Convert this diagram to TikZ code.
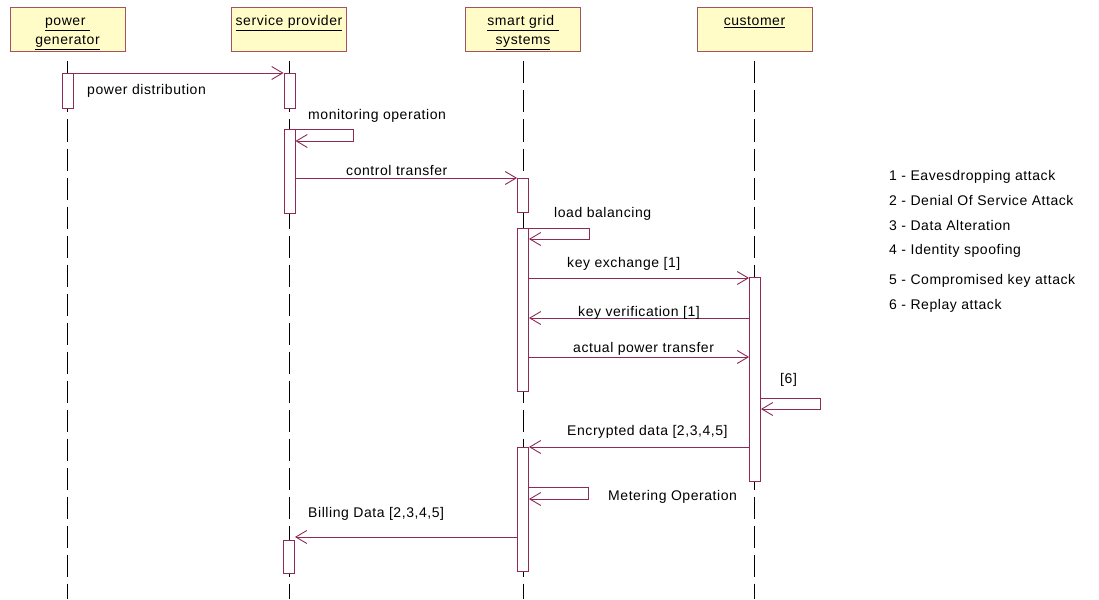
\documentclass[tikz,border=0pt]{standalone}
\usepackage{fontspec}
\setmainfont{Liberation Sans}[LetterSpace=4]
\usetikzlibrary{arrows.meta}
\definecolor{actorfill}{HTML}{FFFCC8}
\definecolor{actorline}{HTML}{A2535E}
\definecolor{msgline}{HTML}{8E2A55}
\newcommand{\topstrut}{\rule{0pt}{16pt}}

\begin{document}
\begin{tikzpicture}[x=1pt, y=-1pt,
  actor/.style={draw=actorline, fill=actorfill, line width=1pt, align=center,
                minimum width=115pt, minimum height=44pt, inner sep=0pt,
                font=\fontsize{14}{19}\selectfont},
  act/.style={draw=msgline, fill=white, line width=0.9pt, anchor=north,
              minimum width=11pt, inner sep=0pt},
  life/.style={draw=black, line width=0.9pt, dash pattern=on 22pt off 7pt},
  msg/.style={draw=msgline, line width=0.9pt,
              -{Straight Barb[length=11pt,width=13pt]}},
  lab/.style={anchor=base west, inner sep=0pt, font=\fontsize{14}{17}\selectfont},
]
\useasboundingbox (0,0) rectangle (1099,599);

% actors
\node[actor] (pg) at (67.5,30) {\topstrut\underline{power~}\\\strut\underline{generator}};
\node[actor] (sp) at (289,30)  {\topstrut\underline{service provider}\\\strut};
\node[actor] (sg) at (523,30)  {\topstrut\underline{smart grid~}\\\strut\underline{systems}};
\node[actor] (cu) at (754.5,30) {\topstrut\underline{customer}\\\strut};

% lifelines
\draw[life] ([yshift=-9pt]pg.south) -- (pg.south |- 0,599);
\draw[life] ([yshift=-9pt]sp.south) -- (sp.south |- 0,599);
\draw[life] ([yshift=-9pt]sg.south) -- (sg.south |- 0,599);
\draw[life] ([yshift=-9pt]cu.south) -- (cu.south |- 0,599);

% activations
\node[act, minimum height=35pt]  (pg1) at (67.5,73) {};
\node[act, minimum height=35pt]  (sp1) at (289.5,73) {};
\node[act, minimum height=84pt]  (sp2) at (289.5,129) {};
\node[act, minimum height=33pt]  (sp3) at (289,540) {};
\node[act, minimum height=34pt]  (sg1) at (523,178) {};
\node[act, minimum height=163pt] (sg2) at (523,228) {};
\node[act, minimum height=124pt] (sg3) at (523,447) {};
\node[act, minimum height=204pt] (cu1) at (755,277) {};

% messages
\draw[msg] (pg1.north east) -- (sp1.north west);
\draw[msg] (sp2.north east) -- ++(58,0) -- ++(0,12) -- ++(-58,0);
\draw[msg] (sp2.east |- sg1.north) -- (sg1.north west);
\draw[msg] (sg2.north east) -- ++(60,0) -- ++(0,11) -- ++(-60,0);
\draw[msg] (sg2.east |- 0,278) -- (cu1.west |- 0,278);
\draw[msg] (cu1.west |- 0,318) -- (sg2.east |- 0,318);
\draw[msg] (sg2.east |- 0,357) -- (cu1.west |- 0,357);
\draw[msg] (cu1.east |- 0,398) -- ++(59,0) -- ++(0,11) -- ++(-59,0);
\draw[msg] (cu1.west |- sg3.north) -- (sg3.north east);
\draw[msg] (sg3.east |- 0,487) -- ++(59,0) -- ++(0,12) -- ++(-59,0);
\draw[msg] (sg3.west |- 0,537) -- (sp3.east |- 0,537);

% message labels
\node[lab] (lpower)   at (87,95)   {power distribution};
\node[lab] (lmonitor) at (308,119) {monitoring operation};
\node[lab] (lcontrol) at (346,175) {control transfer};
\node[lab] (lload)    at (554,217) {load balancing};
\node[lab] (lkeyex)   at (567,267) {key exchange [1]};
\node[lab] (lkeyver)  at (578,316) {key verification [1]};
\node[lab] (lactual)  at (573,352) {actual power transfer};
\node[lab] (lreplay)  at (780,383) {[6]};
\node[lab] (lencrypt) at (567,435) {Encrypted data [2,3,4,5]};
\node[lab] (lmeter)   at (608,500) {Metering Operation};
\node[lab] (lbill)    at (308,517) {Billing Data [2,3,4,5]};

% legend
\node[lab] (att1) at (889,180) {1 - Eavesdropping attack};
\node[lab] (att2) at (889,205) {2 - Denial Of Service Attack};
\node[lab] (att3) at (889,230) {3 - Data Alteration};
\node[lab] (att4) at (889,254) {4 - Identity spoofing};
\node[lab] (att5) at (889,284) {5 - Compromised key attack};
\node[lab] (att6) at (889,309) {6 - Replay attack};

\end{tikzpicture}
\end{document}
